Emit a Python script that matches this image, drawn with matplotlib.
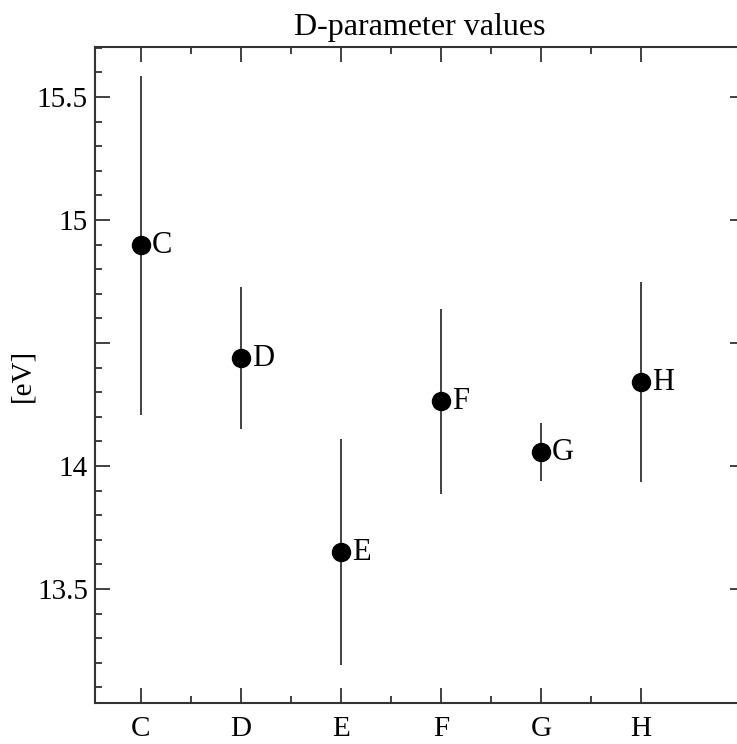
import matplotlib.pyplot as plt
import numpy as np
from matplotlib.ticker import FixedLocator, MultipleLocator, FuncFormatter

plt.rcParams["font.family"] = ["Liberation Serif", "DejaVu Serif"]

names = ["C", "D", "E", "F", "G", "H"]
d_values = [14.898, 14.439, 13.650, 14.264, 14.057, 14.341]
d_errors = [0.689, 0.287, 0.460, 0.376, 0.118, 0.406]
y_labelled = [13.5, 14.0, 15.0, 15.5]

x = np.arange(len(names))

fig = plt.figure(figsize=(7.37, 7.44), dpi=100)
ax = fig.add_axes([95 / 737, 1 - 703 / 744, 650 / 737, 656 / 744])

ax.errorbar(x, d_values, yerr=d_errors, fmt="o", color="black", ecolor="#333333",
            elinewidth=1.3, markersize=13, capsize=0, zorder=3)
for xi, yi, name in zip(x, d_values, names):
    ax.annotate(name, (xi, yi), xytext=(8, 0), textcoords="offset points",
                ha="left", va="center", fontsize=22)

ax.set_xlim(-0.46, 6.04)
ax.set_ylim(13.037, 15.703)
ax.set_xticks(x)
ax.set_xticklabels(names)
ax.xaxis.set_minor_locator(FixedLocator(x[:-1] + 0.5))
ax.yaxis.set_major_locator(MultipleLocator(0.5))
ax.yaxis.set_minor_locator(MultipleLocator(0.1))
ax.yaxis.set_major_formatter(
    FuncFormatter(lambda v, p: "%g" % v if any(abs(v - t) < 1e-6 for t in y_labelled) else ""))

ax.tick_params(which="both", direction="in", top=True, right=True, width=1.3, color="#333333")
ax.tick_params(which="major", length=11, labelsize=21)
ax.tick_params(axis="x", which="major", pad=9)
ax.tick_params(axis="y", which="major", pad=5)
ax.tick_params(which="minor", length=5)
for s in ax.spines.values():
    s.set_linewidth(1.5)
    s.set_color("#333333")

ax.set_ylabel("[eV]", fontsize=21, labelpad=1)
ax.set_title("D-parameter values", fontsize=23, pad=9)

fig.savefig("out.png", dpi=100)
